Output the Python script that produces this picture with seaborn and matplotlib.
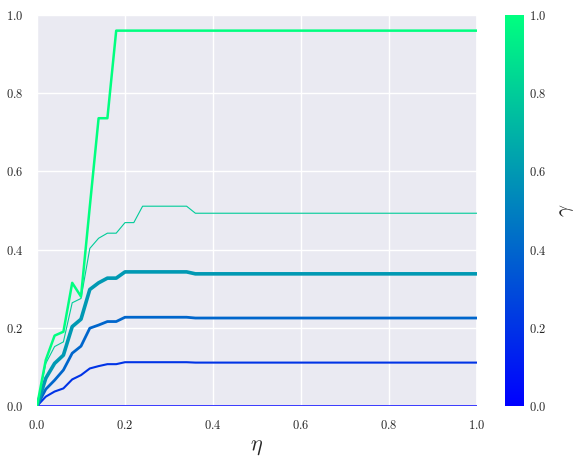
import numpy as np
import pandas as pd
import matplotlib
matplotlib.use("Agg")
import matplotlib.pyplot as plt
import seaborn as sns

eta = [0.0, 0.02, 0.04, 0.06, 0.08, 0.10, 0.12, 0.14, 0.16, 0.18, 0.20,
       0.22, 0.24, 0.26, 0.28, 0.30, 0.32, 0.34, 0.36, 1.0]

gammas = [0.0, 0.2, 0.4, 0.6, 0.8, 1.0]

y_g00 = [0.0] * 20
y_g02 = [0.0, 0.024, 0.037, 0.045, 0.068, 0.079, 0.096, 0.102, 0.107, 0.107, 0.112,
         0.112, 0.112, 0.112, 0.112, 0.112, 0.112, 0.112, 0.111, 0.111]
y_g04 = [0.0, 0.043, 0.066, 0.092, 0.135, 0.153, 0.199, 0.207, 0.216, 0.216, 0.227,
         0.227, 0.227, 0.227, 0.227, 0.227, 0.227, 0.227, 0.225, 0.225]
y_g06 = [0.0, 0.071, 0.109, 0.130, 0.203, 0.222, 0.298, 0.315, 0.327, 0.327, 0.343,
         0.343, 0.343, 0.343, 0.343, 0.343, 0.343, 0.343, 0.338, 0.338]
y_g08 = [0.0, 0.109, 0.152, 0.164, 0.264, 0.275, 0.403, 0.429, 0.442, 0.442, 0.469,
         0.469, 0.511, 0.511, 0.511, 0.511, 0.511, 0.511, 0.493, 0.493]
y_g10 = [0.0, 0.118, 0.180, 0.190, 0.315, 0.280, 0.510, 0.736, 0.736, 0.960, 0.960,
         0.960, 0.960, 0.960, 0.960, 0.960, 0.960, 0.960, 0.960, 0.960]

series = [y_g00, y_g02, y_g04, y_g06, y_g08, y_g10]
widths = [1.8, 1.5, 2.0, 2.6, 0.8, 1.8]

sns.set_theme(style="darkgrid")
plt.rcParams["font.family"] = ["cmr10", "DejaVu Sans"]
plt.rcParams["mathtext.fontset"] = "cm"
plt.rcParams["axes.formatter.use_mathtext"] = True

fig = plt.figure(figsize=(5.79, 4.58), dpi=100)
ax = fig.add_axes([37/579, 52/458, 440/579, 391/458])
cax = fig.add_axes([505/579, 52/458, 19/579, 391/458])

cmap = plt.get_cmap("winter")
for g, ys, lw in zip(gammas, series, widths):
    df = pd.DataFrame({"eta": eta, "val": ys})
    sns.lineplot(data=df, x="eta", y="val", color=cmap(g), lw=lw, ax=ax, zorder=3)

ax.set_xlim(0, 1)
ax.set_ylim(0, 1)
ax.set_xticks([0, 0.2, 0.4, 0.6, 0.8, 1.0])
ax.set_yticks([0, 0.2, 0.4, 0.6, 0.8, 1.0])
ax.tick_params(labelsize=9)
ax.set_xlabel(r"$\eta$", fontsize=16)
ax.set_ylabel("")

sm = matplotlib.cm.ScalarMappable(norm=matplotlib.colors.Normalize(0, 1), cmap=cmap)
cb = fig.colorbar(sm, cax=cax)
cb.outline.set_visible(False)
cb.set_ticks([0, 0.2, 0.4, 0.6, 0.8, 1.0])
cb.ax.tick_params(labelsize=9, length=0)
cb.set_label(r"$\gamma$", fontsize=15, labelpad=8)

fig.savefig("out.png", dpi=100)
